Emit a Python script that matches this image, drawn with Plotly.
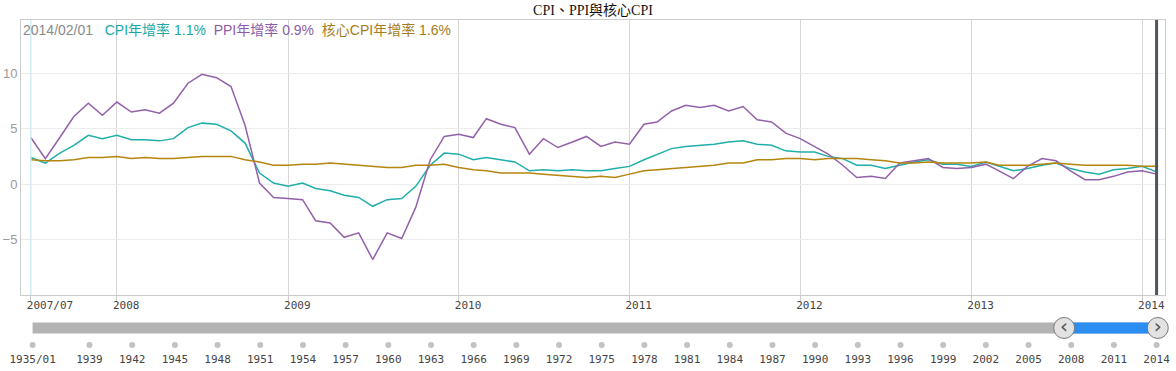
import pandas as pd
import plotly.graph_objects as go

# ---------------- data ----------------
start_month = "2007-07-01"

cpi = [2.4, 1.9, 2.8, 3.5, 4.4, 4.1, 4.4, 4.0, 4.0, 3.9, 4.1, 5.1, 5.5, 5.4, 4.8, 3.7,
       1.0, 0.1, -0.2, 0.1, -0.4, -0.6, -1.0, -1.2, -2.0, -1.4, -1.3, -0.2, 1.7, 2.8,
       2.7, 2.2, 2.4, 2.2, 2.0, 1.2, 1.3, 1.2, 1.3, 1.2, 1.2, 1.4, 1.6, 2.2, 2.7, 3.2,
       3.4, 3.5, 3.6, 3.8, 3.9, 3.6, 3.5, 3.0, 2.9, 2.9, 2.5, 2.3, 1.7, 1.7, 1.4, 1.7,
       2.0, 2.2, 1.8, 1.8, 1.6, 2.0, 1.6, 1.2, 1.4, 1.7, 1.9, 1.4, 1.1, 0.9, 1.3, 1.4,
       1.6, 1.1]

ppi = [4.2, 2.3, 4.2, 6.1, 7.3, 6.2, 7.4, 6.5, 6.7, 6.4, 7.3, 9.1, 9.9, 9.6, 8.8, 5.3,
       0.1, -1.2, -1.3, -1.4, -3.3, -3.5, -4.8, -4.4, -6.8, -4.4, -4.9, -2.1, 2.2, 4.3,
       4.5, 4.2, 5.9, 5.4, 5.1, 2.7, 4.1, 3.3, 3.8, 4.3, 3.4, 3.8, 3.6, 5.4, 5.6, 6.6,
       7.1, 6.9, 7.1, 6.6, 7.0, 5.8, 5.6, 4.6, 4.1, 3.4, 2.7, 1.7, 0.6, 0.7, 0.5, 1.9,
       2.1, 2.3, 1.5, 1.4, 1.5, 1.8, 1.2, 0.5, 1.6, 2.3, 2.1, 1.2, 0.4, 0.4, 0.7, 1.1,
       1.2, 0.9]

core = [2.2, 2.1, 2.1, 2.2, 2.4, 2.4, 2.5, 2.3, 2.4, 2.3, 2.3, 2.4, 2.5, 2.5, 2.5, 2.2,
        2.0, 1.7, 1.7, 1.8, 1.8, 1.9, 1.8, 1.7, 1.6, 1.5, 1.5, 1.7, 1.7, 1.8, 1.5, 1.3,
        1.2, 1.0, 1.0, 1.0, 0.9, 0.8, 0.7, 0.6, 0.7, 0.6, 0.9, 1.2, 1.3, 1.4, 1.5, 1.6,
        1.7, 1.9, 1.9, 2.2, 2.2, 2.3, 2.3, 2.2, 2.3, 2.3, 2.3, 2.2, 2.1, 1.9, 1.9, 2.0,
        1.9, 1.9, 1.9, 2.0, 1.7, 1.7, 1.7, 1.8, 1.9, 1.8, 1.7, 1.7, 1.7, 1.7, 1.6, 1.6]

series_names = ["CPI年增率", "PPI年增率", "核心CPI年增率"]
series_colors = ["#20aeaa", "#9360aa", "#b5850f"]
legend_colors = ["#1aa8a8", "#8c5ca6", "#a67c1a"]

chart_title = "CPI、PPI與核心CPI"

axis_tick_dates = ["2007-07-01", "2008-01-01", "2009-01-01", "2010-01-01",
                   "2011-01-01", "2012-01-01", "2013-01-01", "2014-01-01"]
axis_tick_labels = ["2007/07", "2008", "2009", "2010", "2011", "2012", "2013", "2014"]
y_ticks = [-5, 0, 5, 10]

slider_years = [1935, 1939, 1942, 1945, 1948, 1951, 1954, 1957, 1960, 1963, 1966,
                1969, 1972, 1975, 1978, 1981, 1984, 1987, 1990, 1993, 1996, 1999,
                2002, 2005, 2008, 2011, 2014]
slider_labels = ["1935/01", "1939", "1942", "1945", "1948", "1951", "1954", "1957",
                 "1960", "1963", "1966", "1969", "1972", "1975", "1978", "1981",
                 "1984", "1987", "1990", "1993", "1996", "1999", "2002", "2005",
                 "2008", "2011", "2014"]
slider_start = 1935.0

# ---------------- figure ----------------
dates = pd.date_range(start_month, periods=len(cpi), freq="MS")


def frac_year(d):
    return d.year + (d.month - 1) / 12.0


W, H = 1176, 371
fig = go.Figure()

for vals, name, col in zip([cpi, ppi, core], series_names, series_colors):
    fig.add_trace(go.Scatter(x=dates, y=vals, mode="lines", name=name,
                             line=dict(color=col, width=1.5), hoverinfo="skip",
                             xaxis="x", yaxis="y"))

# range-slider look-alike on a secondary axis (years)
sel_start = frac_year(dates[0])
sel_end = frac_year(dates[-1])
bar_y = 0.764
dot_y = 0.455
label_y = 0.182
fig.add_trace(go.Scatter(x=[slider_start, sel_end], y=[bar_y, bar_y], mode="lines",
                         line=dict(color="#b3b3b3", width=11), hoverinfo="skip",
                         xaxis="x2", yaxis="y2", showlegend=False))
fig.add_trace(go.Scatter(x=[sel_start, sel_end], y=[bar_y, bar_y], mode="lines",
                         line=dict(color="#2b8cf2", width=11), hoverinfo="skip",
                         xaxis="x2", yaxis="y2", showlegend=False))
fig.add_trace(go.Scatter(x=slider_years, y=[dot_y] * len(slider_years), mode="markers",
                         marker=dict(color="#c2c2c2", size=6), hoverinfo="skip",
                         xaxis="x2", yaxis="y2", showlegend=False))
fig.add_trace(go.Scatter(x=slider_years, y=[label_y] * len(slider_years), mode="text",
                         text=slider_labels, textposition="middle center",
                         textfont=dict(family="DejaVu Sans Mono", size=11, color="#444"),
                         hoverinfo="skip", cliponaxis=False,
                         xaxis="x2", yaxis="y2", showlegend=False))
fig.add_trace(go.Scatter(x=[sel_start, sel_end], y=[bar_y, bar_y], mode="markers+text",
                         text=["‹", "›"], textposition="middle center",
                         textfont=dict(size=20, color="#555", family="DejaVu Sans"),
                         marker=dict(color="#e2e2e2", size=21,
                                     line=dict(color="#7a7a7a", width=1)),
                         hoverinfo="skip", cliponaxis=False,
                         xaxis="x2", yaxis="y2", showlegend=False))

mt, mb, ml, mr = 20, 0, 21, 11
ph = H - mt - mb
main_bottom = (H - 295 - mb) / ph
sl_lo = (H - 370 - mb) / ph
sl_hi = (H - 315 - mb) / ph

fig.update_layout(
    width=W, height=H,
    margin=dict(l=ml, r=mr, t=mt, b=mb, autoexpand=False),
    paper_bgcolor="white", plot_bgcolor="white",
    showlegend=False,
    title=dict(text=chart_title, x=0.5, xref="paper", y=1 - 10 / H, yref="container",
               yanchor="middle", xanchor="center", automargin=False,
               font=dict(family="Liberation Serif, Noto Sans CJK TC", size=14, color="#111")),
    xaxis=dict(domain=[0, 1], anchor="y", type="date", automargin=False,
               range=["2007-06-10", "2014-02-19"],
               tickvals=axis_tick_dates, ticktext=axis_tick_labels,
               ticklabelposition="outside right", ticklabelshift=-5,
               ticks="outside", ticklen=6, tickcolor="#cccccc",
               tickfont=dict(family="DejaVu Sans Mono", size=11, color="#444"),
               showgrid=True, gridcolor="#d6d6d6", gridwidth=1,
               showline=True, linecolor="#cccccc", mirror=True, zeroline=False),
    yaxis=dict(domain=[main_bottom, 1], anchor="x", range=[-10, 14.8], automargin=False,
               tickvals=y_ticks, ticks="", showgrid=True, gridcolor="#ececec",
               tickfont=dict(family="Liberation Sans", size=13, color="#9a9a9a"),
               showline=True, linecolor="#cccccc", mirror=True, zeroline=False),
    xaxis2=dict(domain=[0, 1], anchor="y2", range=[1934.185, 2014.59], automargin=False,
                visible=False),
    yaxis2=dict(domain=[sl_lo, sl_hi], anchor="x2", range=[0, 1], visible=False,
                automargin=False),
)

# first-date marker line (light cyan) and current-date cursor (dark)
fig.add_shape(type="line", xref="x", yref="y domain", x0=dates[0], x1=dates[0],
              y0=0, y1=1, line=dict(color="#d3eef6", width=1.5))
fig.add_shape(type="line", xref="x", yref="y domain", x0=dates[-1], x1=dates[-1],
              y0=0, y1=1, line=dict(color="#4d5561", width=3))

# legend-like header
vals_last = [cpi[-1], ppi[-1], core[-1]]
parts = [f"<span style='color:{c}'>{n} {v}%</span>"
         for n, v, c in zip(series_names, vals_last, legend_colors)]
header = (f"<span style='color:#8a8a8a'>{dates[-1].strftime('%Y/%m/%d')}</span>"
          "&nbsp;&nbsp;&nbsp;" + "&nbsp; ".join(parts))
fig.add_annotation(text=header, xref="paper", yref="paper", x=0, y=1,
                   xanchor="left", yanchor="top", xshift=0, yshift=0, showarrow=False,
                   align="left",
                   font=dict(family="Liberation Sans, Noto Sans CJK TC", size=14))

# remove the default page margin so the figure sits at the window origin
fig.write_html("out.html", config={"displayModeBar": False},
               post_script="document.body.style.margin='0';document.body.style.padding='0';")
